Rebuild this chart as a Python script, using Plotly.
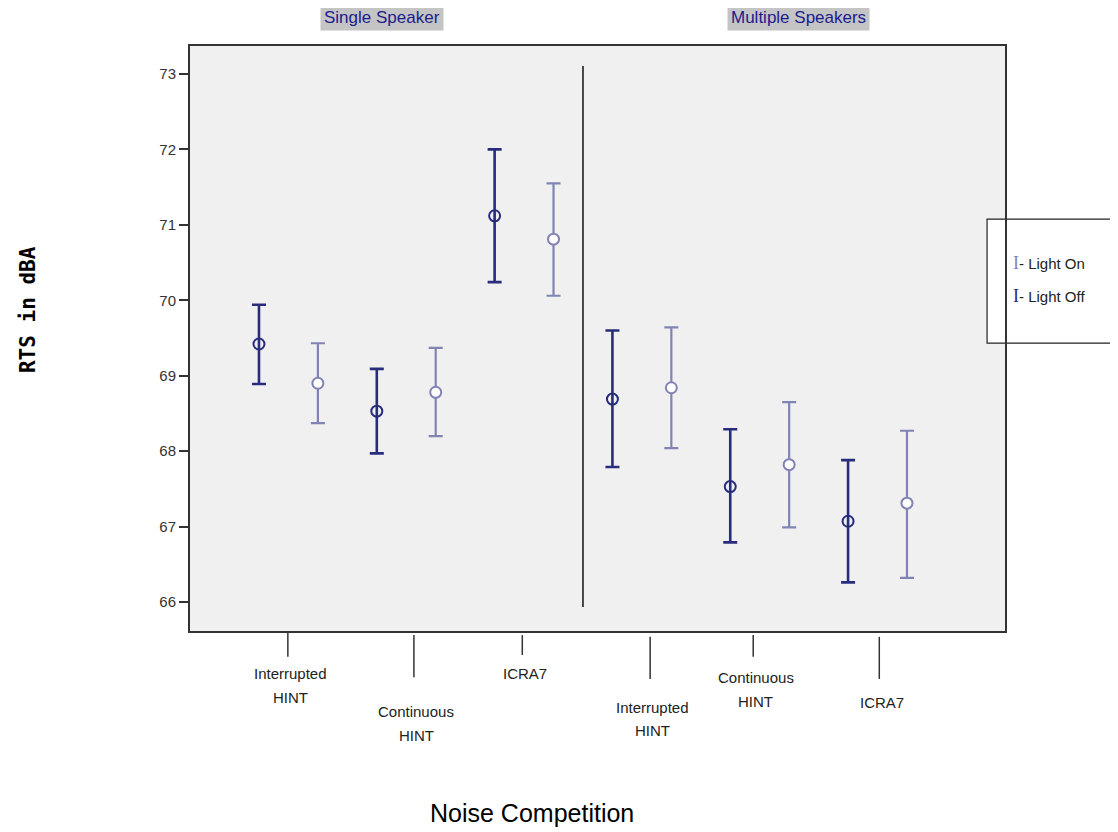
import plotly.graph_objects as go

# ---------------- data ----------------
panels = ["Single Speaker", "Multiple Speakers"]
noise_types = ["Interrupted<br>HINT", "Continuous<br>HINT", "ICRA7",
               "Interrupted<br>HINT", "Continuous<br>HINT", "ICRA7"]

off_mean = [69.42, 68.53, 71.12, 68.69, 67.53, 67.07]
off_upper = [69.94, 69.09, 72.00, 69.60, 68.29, 67.88]
off_lower = [68.89, 67.97, 70.24, 67.79, 66.79, 66.26]

on_mean = [68.90, 68.78, 70.81, 68.84, 67.82, 67.31]
on_upper = [69.43, 69.37, 71.55, 69.64, 68.65, 68.27]
on_lower = [68.37, 68.20, 70.06, 68.04, 66.99, 66.32]

y_ticks = [66, 67, 68, 69, 70, 71, 72, 73]

# ---------------- styling / layout helpers ----------------
OFF_C = "#282c7c"
ON_C = "#8183b5"
BG = "#f0f0f0"
TXT = "#222222"
FONT = "Liberation Sans Narrow, Liberation Sans, Arial, sans-serif"

n = len(noise_types)
x_off = [2 * i + 1 for i in range(n)]
x_on = [2 * i + 2 for i in range(n)]

fig = go.Figure()

fig.add_trace(go.Scatter(
    x=x_off, y=off_mean, mode="markers", name="Light Off",
    marker=dict(symbol="circle-open", size=11, color=OFF_C, line=dict(width=2, color=OFF_C)),
    error_y=dict(type="data", symmetric=False,
                 array=[u - m for u, m in zip(off_upper, off_mean)],
                 arrayminus=[m - l for m, l in zip(off_mean, off_lower)],
                 color=OFF_C, thickness=2.6, width=7),
    showlegend=False,
))
fig.add_trace(go.Scatter(
    x=x_on, y=on_mean, mode="markers", name="Light On",
    marker=dict(symbol="circle", size=11, color="white", line=dict(width=2, color=ON_C)),
    error_y=dict(type="data", symmetric=False,
                 array=[u - m for u, m in zip(on_upper, on_mean)],
                 arrayminus=[m - l for m, l in zip(on_mean, on_lower)],
                 color=ON_C, thickness=2.2, width=7),
    showlegend=False,
))

# custom category ticks (staggered as in the original)
tick_x = [1.49, 3.63, 5.47, 7.64, 9.39, 11.53]
tick_y0 = [-0.002, -0.007, -0.007, -0.010, -0.007, -0.010]
tick_y1 = [-0.044, -0.079, -0.041, -0.082, -0.044, -0.082]
label_y = [-0.073, -0.138, -0.073, -0.130, -0.080, -0.123]  # paper y of first line
line_gap = 0.040

shapes = []
annotations = []
for tx, ty0, ty1, ly, lab in zip(tick_x, tick_y0, tick_y1, label_y, noise_types):
    shapes.append(dict(type="line", xref="x", yref="paper", x0=tx, x1=tx, y0=ty0, y1=ty1,
                       line=dict(color="#333333", width=1.5)))
    for k, line in enumerate(lab.split("<br>")):
        annotations.append(dict(xref="x", yref="paper", x=tx + 0.04, y=ly - k * line_gap,
                                text=line, showarrow=False, xanchor="center", yanchor="middle",
                                font=dict(family=FONT, size=15, color=TXT)))

# divider between panels
shapes.append(dict(type="line", xref="x", yref="paper", x0=(x_on[2] + x_off[3]) / 2,
                   x1=(x_on[2] + x_off[3]) / 2, y0=0.041, y1=0.966,
                   line=dict(color="#111111", width=1.5)))

# panel titles
for px, title in zip([0.2356, 0.747], panels):
    annotations.append(dict(xref="paper", yref="paper", x=px, y=1.048, text=title,
                            showarrow=False, xanchor="center", yanchor="middle",
                            bgcolor="#c4c4c4", borderpad=3,
                            font=dict(family=FONT, size=17, color="#1c1c8c")))

# legend box
shapes.append(dict(type="rect", xref="paper", yref="paper", x0=0.978, x1=1.2,
                   y0=0.492, y1=0.704, line=dict(color="#222222", width=1.2),
                   fillcolor="white", layer="below"))
for ly, col, lab in [(0.629, ON_C, "Light On"), (0.573, OFF_C, "Light Off")]:
    annotations.append(dict(xref="paper", yref="paper", x=1.0075, y=ly,
                            text=f"<span style='color:{col};font-family:Liberation Serif;font-size:18px'>I</span>- {lab}",
                            showarrow=False, xanchor="left", yanchor="middle",
                            font=dict(family=FONT, size=15, color=TXT)))

# axis titles
annotations.append(dict(xref="paper", yref="paper", x=-0.199, y=0.55, text="<b>RTS in dBA</b>",
                        showarrow=False, textangle=-90, xanchor="center", yanchor="middle",
                        font=dict(family="DejaVu Sans Mono, monospace", size=21, color="black")))
annotations.append(dict(xref="paper", yref="paper", x=0.4196, y=-0.311, text="Noise Competition",
                        showarrow=False, xanchor="center", yanchor="middle",
                        font=dict(family="Liberation Sans, Arial, sans-serif", size=25, color="black")))

# page body has an 8px margin: shrink the figure so the plot lands where the original is
fig.update_layout(
    width=1110, height=824,
    margin=dict(l=182, r=113, t=38, b=201),
    paper_bgcolor="white", plot_bgcolor=BG,
    shapes=shapes, annotations=annotations,
    xaxis=dict(range=[-0.171, 13.664], showgrid=False, zeroline=False, showticklabels=False,
               ticks="", showline=True, linecolor="#333333", linewidth=2, mirror=True),
    yaxis=dict(range=[65.615, 73.371], tickvals=y_ticks, showgrid=False, zeroline=False,
               ticks="outside", ticklen=9, tickwidth=2, tickcolor="#333333",
               showline=True, linecolor="#333333", linewidth=2, mirror=True,
               tickfont=dict(family=FONT, size=15, color="#333333")),
    font=dict(family=FONT),
)

fig.write_html("out.html")
